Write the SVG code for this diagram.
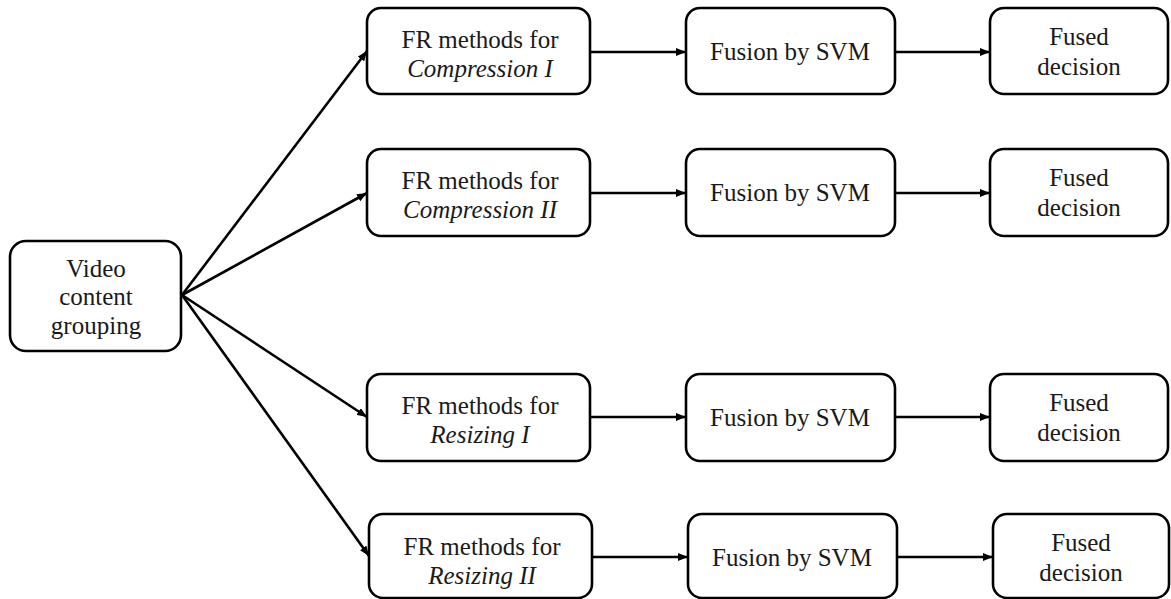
<svg xmlns="http://www.w3.org/2000/svg" width="1171" height="599" viewBox="0 0 1171 599">
<style>
.box{fill:#fff;stroke:#000;stroke-width:2.6}
.t{font-family:'Liberation Serif','Times New Roman',Times,'DejaVu Serif',serif;font-size:25px;fill:#1a1a1a;text-anchor:middle}
.i{font-style:italic}
.c{stroke:#000;stroke-width:2.6;fill:none;marker-end:url(#ah)}
</style>
<defs>
<marker id="ah" viewBox="0 0 10 8" refX="10" refY="4" markerWidth="10" markerHeight="8" markerUnits="userSpaceOnUse" orient="auto">
<path d="M0,0 L10,4 L0,8 z" fill="#000"/>
</marker>
</defs>
<rect width="1171" height="599" fill="#fff"/>
<g id="connectors">
<line class="c" x1="182" y1="295" x2="367" y2="51"/>
<line class="c" x1="182" y1="295" x2="367" y2="193"/>
<line class="c" x1="182" y1="295" x2="367" y2="417"/>
<line class="c" x1="182" y1="295" x2="369" y2="556"/>
<line class="c" x1="590" y1="52" x2="686" y2="52"/>
<line class="c" x1="895" y1="52" x2="990" y2="52"/>
<line class="c" x1="590" y1="193" x2="686" y2="193"/>
<line class="c" x1="895" y1="193" x2="990" y2="193"/>
<line class="c" x1="590" y1="417" x2="686" y2="417"/>
<line class="c" x1="895" y1="417" x2="990" y2="417"/>
<line class="c" x1="592" y1="557" x2="688" y2="557"/>
<line class="c" x1="897" y1="557" x2="993" y2="557"/>
</g>
<g id="video">
<rect class="box" x="10" y="241" width="171" height="110" rx="16"/>
<text class="t" x="96" y="277">Video</text>
<text class="t" x="96" y="305">content</text>
<text class="t" x="96" y="334">grouping</text>
</g>
<g id="fr1">
<rect class="box" x="367" y="8" width="223" height="86" rx="14"/>
<text class="t" x="480" y="48">FR methods for</text>
<text class="t i" x="480" y="77">Compression I</text>
</g>
<g id="svm1">
<rect class="box" x="686" y="8" width="209" height="86" rx="14"/>
<text class="t" x="790" y="60">Fusion by SVM</text>
</g>
<g id="dec1">
<rect class="box" x="990" y="8" width="178" height="86" rx="14"/>
<text class="t" x="1079" y="45">Fused</text>
<text class="t" x="1079" y="75">decision</text>
</g>
<g id="fr2">
<rect class="box" x="367" y="149" width="223" height="87" rx="14"/>
<text class="t" x="480" y="189">FR methods for</text>
<text class="t i" x="480" y="218">Compression II</text>
</g>
<g id="svm2">
<rect class="box" x="686" y="149" width="209" height="87" rx="14"/>
<text class="t" x="790" y="201">Fusion by SVM</text>
</g>
<g id="dec2">
<rect class="box" x="990" y="149" width="178" height="87" rx="14"/>
<text class="t" x="1079" y="186">Fused</text>
<text class="t" x="1079" y="216">decision</text>
</g>
<g id="fr3">
<rect class="box" x="367" y="374" width="223" height="87" rx="14"/>
<text class="t" x="480" y="414">FR methods for</text>
<text class="t i" x="480" y="443">Resizing I</text>
</g>
<g id="svm3">
<rect class="box" x="686" y="374" width="209" height="87" rx="14"/>
<text class="t" x="790" y="426">Fusion by SVM</text>
</g>
<g id="dec3">
<rect class="box" x="990" y="374" width="178" height="87" rx="14"/>
<text class="t" x="1079" y="411">Fused</text>
<text class="t" x="1079" y="441">decision</text>
</g>
<g id="fr4">
<rect class="box" x="369" y="514" width="223" height="84" rx="14"/>
<text class="t" x="482" y="555">FR methods for</text>
<text class="t i" x="482" y="584">Resizing II</text>
</g>
<g id="svm4">
<rect class="box" x="688" y="514" width="209" height="84" rx="14"/>
<text class="t" x="792" y="566">Fusion by SVM</text>
</g>
<g id="dec4">
<rect class="box" x="993" y="514" width="176" height="84" rx="14"/>
<text class="t" x="1081" y="551">Fused</text>
<text class="t" x="1081" y="581">decision</text>
</g>
</svg>
